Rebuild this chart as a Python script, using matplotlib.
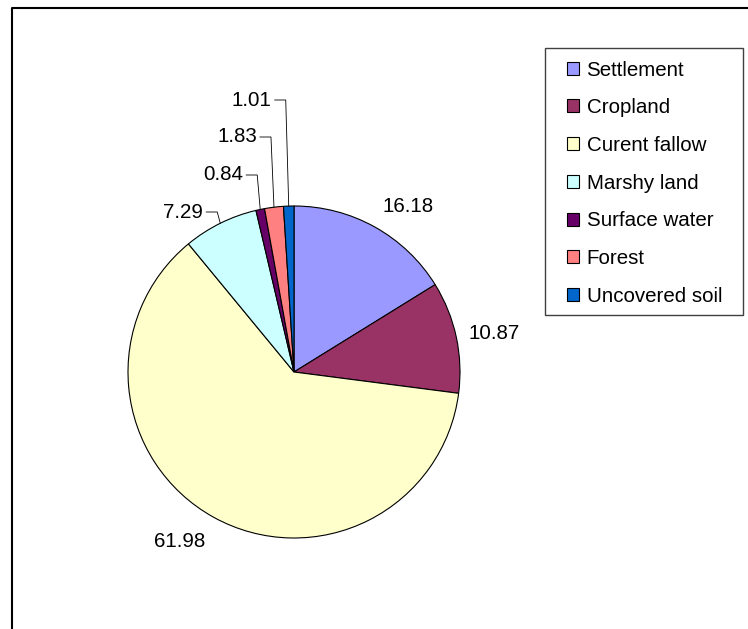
import numpy as np
import matplotlib
matplotlib.use("Agg")
import matplotlib.pyplot as plt
from matplotlib.patches import Patch, Rectangle
from matplotlib.lines import Line2D

CATEGORIES = [
    "Settlement",
    "Cropland",
    "Curent fallow",
    "Marshy land",
    "Surface water",
    "Forest",
    "Uncovered soil",
]
VALUES = [16.18, 10.87, 61.98, 7.29, 0.84, 1.83, 1.01]
COLORS = ["#9999FF", "#993366", "#FFFFCC", "#CCFFFF", "#660066", "#FF8080", "#0066CC"]

W, H = 748, 629
CENTER = (294, H - 372)
RADIUS = 166
# slices whose label sits on a leader line: index -> label y (px from top)
LEADER_Y = {3: 212, 4: 175, 5: 137, 6: 100}
FS = 14.8

plt.rcParams["font.family"] = ["Liberation Sans", "DejaVu Sans"]

fig = plt.figure(figsize=(W / 100, H / 100), dpi=100)
ax = fig.add_axes([0, 0, 1, 1])
wedges, _ = ax.pie(
    VALUES,
    colors=COLORS,
    startangle=90,
    counterclock=False,
    center=CENTER,
    radius=RADIUS,
    wedgeprops=dict(edgecolor="black", linewidth=0.8),
)
ax.set_xlim(0, W)
ax.set_ylim(0, H)
ax.set_aspect("equal")
ax.axis("off")

for i, w in enumerate(wedges):
    theta = np.deg2rad((w.theta1 + w.theta2) / 2)
    cx, cy = np.cos(theta), np.sin(theta)
    txt = "{0:.2f}".format(VALUES[i])
    ex, ey = CENTER[0] + RADIUS * cx, CENTER[1] + RADIUS * cy
    if i in LEADER_Y:
        ly = H - LEADER_Y[i]
        elbow = ex - 3
        ax.plot([elbow - 11, elbow, ex], [ly, ly, ey], color="black", lw=0.6)
        ax.text(elbow - 14, ly, txt, ha="right", va="center", fontsize=FS)
    else:
        lx = CENTER[0] + 1.1 * RADIUS * cx
        ly = CENTER[1] + 1.1 * RADIUS * cy
        ha = "left" if cx > 0 else "right"
        if cy > 0.5:
            va = "baseline"
        elif cy < -0.5:
            va = "top"
        else:
            va = "center"
        if ha == "left" and va == "center":
            lx -= 4
        ax.text(lx, ly, txt, ha=ha, va=va, fontsize=FS)

# legend frame drawn separately so its size matches the original box
fig.add_artist(
    Rectangle(
        (545 / W, 1 - 315 / H),
        (743 - 545) / W,
        (315 - 48) / H,
        transform=fig.transFigure,
        facecolor="white",
        edgecolor="#404040",
        linewidth=1.0,
    )
)
handles = [Patch(facecolor=c, edgecolor="black", linewidth=0.8) for c in COLORS]
leg = fig.legend(
    handles,
    CATEGORIES,
    loc="upper left",
    bbox_to_anchor=(567 / W, 1 - 60.5 / H),
    bbox_transform=fig.transFigure,
    frameon=False,
    fontsize=FS,
    handlelength=0.6,
    handleheight=0.6,
    handletextpad=0.35,
    labelspacing=0.91,
    borderpad=0,
    borderaxespad=0,
)

# chart area border (only left and top are visible)
fig.add_artist(
    Line2D(
        [12 / W, 12 / W, 1],
        [0, 1 - 8 / H, 1 - 8 / H],
        transform=fig.transFigure,
        color="black",
        lw=1.5,
    )
)

fig.savefig("out.png", dpi=100)
